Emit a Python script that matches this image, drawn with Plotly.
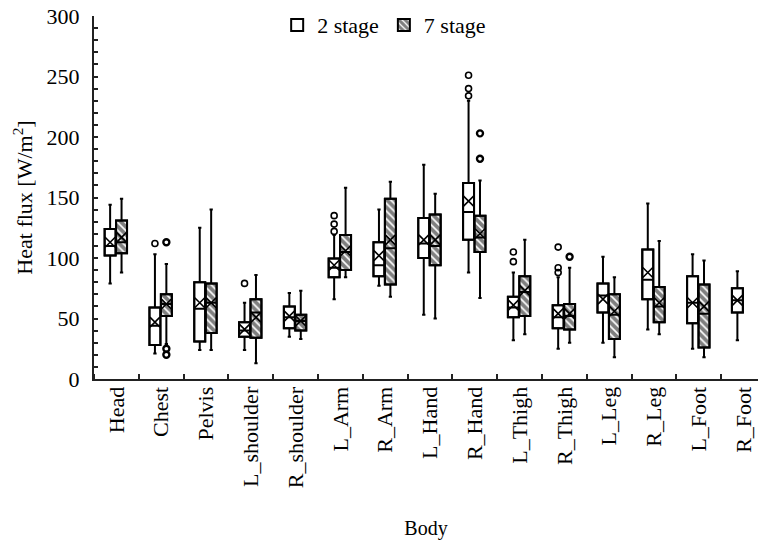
import plotly.graph_objects as go

categories = ["Head", "Chest", "Pelvis", "L_shoulder", "R_shoulder", "L_Arm", "R_Arm",
              "L_Hand", "R_Hand", "L_Thigh", "R_Thigh", "L_Leg", "R_Leg", "L_Foot", "R_Foot"]

# 2 stage statistics
s2_low = [79, 21, 24, 24, 35, 66, 77, 53, 88, 32, 25, 30, 41, 25, 32]
s2_q1 = [102, 28, 31, 35, 42, 84, 85, 100, 115, 51, 42, 55, 66, 46, 55]
s2_med = [110, 44, 58, 40, 51, 92, 94, 112, 138, 59, 51, 69, 82, 63, 65]
s2_q3 = [124, 59, 80, 47, 60, 99.5, 113, 133, 162, 68, 61, 79, 107, 85, 75]
s2_high = [144, 103, 125, 63, 71, 119, 140, 177, 230, 88, 84, 101, 145, 103, 89]
s2_mean = [113, 47, 63, 41, 52, 94, 102, 115, 147, 61, 54, 66, 88, 63, 65]
s2_out = [[], [112], [], [79], [], [122, 128, 135], [], [], [234, 240, 251],
          [97, 105], [88, 92, 109], [], [], [], []]

# 7 stage statistics
s7_low = [88, 29, 24, 13, 33, 84, 68, 50, 67, 37, 30, 18, 37, 18, None]
s7_q1 = [104, 52, 38, 34, 40, 90, 78, 94, 105, 52, 41, 33, 47, 26, None]
s7_med = [113, 62, 63, 55, 48, 105, 108, 110, 117, 72, 52, 53, 60, 54, None]
s7_q3 = [131, 70, 79, 66, 53, 119, 149, 136, 135, 85, 62, 70, 76, 78, None]
s7_high = [149, 95, 140, 86, 73, 158, 163, 153, 164, 115, 92, 84, 114, 98, None]
s7_mean = [117, 62, 63, 51, 48, 106, 115, 115, 120, 73, 54, 56, 63, 60, None]
s7_out = [[], [20, 25, 113], [], [], [], [], [], [], [182, 203], [], [101], [], [], [], []]

FONT = "Liberation Serif"
BW = 0.245
series = [
    ("2 stage", -0.14, s2_low, s2_q1, s2_med, s2_q3, s2_high, s2_mean, s2_out, None, 1.6),
    ("7 stage", 0.115, s7_low, s7_q1, s7_med, s7_q3, s7_high, s7_mean, s7_out, "\\", 2.4),
]

fig = go.Figure()
for name, off, lo, q1, md, q3, hi, mn, outs, pat, olw in series:
    idx = [i for i, v in enumerate(q1) if v is not None]
    xs = [i + off for i in idx]
    marker = dict(color="white", line=dict(color="black", width=2))
    if pat:
        marker["pattern"] = dict(shape=pat, fgcolor="black", bgcolor="white", size=5.5, solidity=0.7)
    fig.add_trace(go.Bar(
        x=xs, base=[q1[i] for i in idx], y=[q3[i] - q1[i] for i in idx],
        width=BW, marker=marker, name=name, showlegend=True, hoverinfo="skip"))
    fig.add_trace(go.Box(
        x=xs, q1=[q1[i] for i in idx], median=[md[i] for i in idx], q3=[q3[i] for i in idx],
        lowerfence=[lo[i] for i in idx], upperfence=[hi[i] for i in idx],
        width=BW, fillcolor="rgba(0,0,0,0)", line=dict(color="black", width=2),
        whiskerwidth=0.3, boxpoints=False, showlegend=False, name=name))
    fig.add_trace(go.Scatter(
        x=xs, y=[mn[i] for i in idx], mode="markers", showlegend=False,
        marker=dict(symbol="x-thin-open", size=10, color="black", line=dict(color="black", width=1.6))))
    ox, oy = [], []
    for i, vals in enumerate(outs):
        for v in vals:
            ox.append(i + off)
            oy.append(v)
    fig.add_trace(go.Scatter(
        x=ox, y=oy, mode="markers", showlegend=False,
        marker=dict(symbol="circle-open", size=6, color="black", line=dict(color="black", width=olw))))

fig.update_layout(
    width=758, height=540,
    margin=dict(l=94, r=0, t=16, b=161, autoexpand=False),
    paper_bgcolor="white", plot_bgcolor="white",
    barmode="overlay", boxmode="overlay",
    font=dict(family=FONT, size=22, color="black"),
    legend=dict(orientation="h", x=0.437, xanchor="center", y=0.975, yanchor="middle",
                bgcolor="rgba(0,0,0,0)", font=dict(family=FONT, size=22), itemwidth=30),
    showlegend=True,
)
fig.update_xaxes(
    range=[-0.5, 14.32], tickmode="array", tickvals=list(range(len(categories))),
    ticktext=categories, tickangle=-90, ticks="", showline=True, linecolor="#222",
    linewidth=2, showgrid=False, zeroline=False, ticklabelstandoff=-3,
    tickfont=dict(family=FONT, size=22),
    minor=dict(tickmode="linear", tick0=-0.5, dtick=1, ticks="inside", ticklen=5,
               tickwidth=1.5, tickcolor="#222", showgrid=False),
    title=dict(text="Body", font=dict(family=FONT, size=20), standoff=38),
)
fig.update_yaxes(
    range=[0, 300], dtick=50, ticks="inside", ticklen=4, tickwidth=1.5, tickcolor="#222",
    showline=True, linecolor="#222", linewidth=2, showgrid=False, zeroline=False,
    ticklabelstandoff=8, tickfont=dict(family=FONT, size=22),
    minor=dict(dtick=10, ticks="inside", ticklen=4, tickwidth=1.5, tickcolor="#222", showgrid=False),
    title=dict(text="Heat flux [W/m<sup>2</sup>]", font=dict(family=FONT, size=22), standoff=8),
)

fig.write_html("out.html")
